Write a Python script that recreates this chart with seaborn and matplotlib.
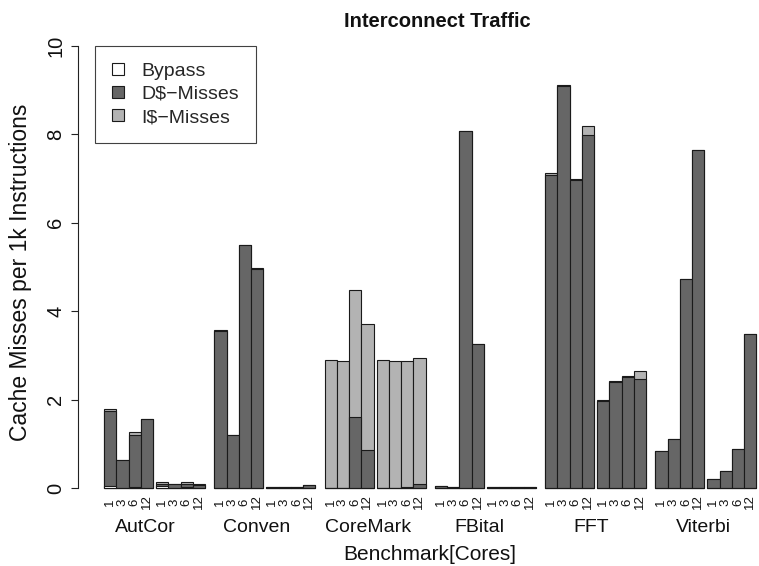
import numpy as np
import pandas as pd
import matplotlib
matplotlib.use("Agg")
import matplotlib.pyplot as plt
from matplotlib.patches import Patch
import seaborn as sns

# ---- data -------------------------------------------------------------
benchmarks = ["AutCor", "Conven", "CoreMark", "FBital", "FFT", "Viterbi"]
cores = ["1", "3", "6", "12"]

# two configurations per benchmark, four core counts each
bypass = [
    0.04, 0.01, 0.02, 0.01,   0.04, 0.01, 0.02, 0.01,   # AutCor
    0.01, 0.01, 0.01, 0.01,   0.01, 0.01, 0.01, 0.01,   # Conven
    0.00, 0.00, 0.00, 0.00,   0.00, 0.00, 0.00, 0.00,   # CoreMark
    0.01, 0.01, 0.01, 0.01,   0.01, 0.01, 0.01, 0.01,   # FBital
    0.01, 0.01, 0.01, 0.01,   0.01, 0.01, 0.01, 0.01,   # FFT
    0.01, 0.01, 0.01, 0.01,   0.01, 0.01, 0.01, 0.01,   # Viterbi
]
dcache_misses = [
    1.70, 0.62, 1.19, 1.54,   0.04, 0.07, 0.06, 0.06,
    3.55, 1.19, 5.48, 4.95,   0.01, 0.01, 0.01, 0.05,
    0.00, 0.00, 1.61, 0.86,   0.00, 0.00, 0.03, 0.08,
    0.03, 0.01, 8.06, 3.24,   0.01, 0.01, 0.01, 0.01,
    7.07, 9.08, 6.96, 7.98,   1.95, 2.38, 2.50, 2.45,
    0.82, 1.10, 4.72, 7.63,   0.20, 0.37, 0.88, 3.48,
]
icache_misses = [
    0.05, 0.01, 0.06, 0.02,   0.05, 0.01, 0.05, 0.01,
    0.01, 0.01, 0.01, 0.01,   0.00, 0.00, 0.00, 0.01,
    2.90, 2.88, 2.86, 2.86,   2.90, 2.87, 2.85, 2.87,
    0.00, 0.00, 0.00, 0.00,   0.00, 0.00, 0.00, 0.00,
    0.05, 0.02, 0.02, 0.19,   0.04, 0.02, 0.02, 0.18,
    0.00, 0.00, 0.00, 0.00,   0.00, 0.00, 0.00, 0.00,
]

# ---- bar layout (in bar widths) -----------------------------------------
group_gap = 0.25      # between the two configurations of a benchmark
bench_gap = 0.75      # between benchmarks
bench_pitch = 2 * len(cores) + group_gap + bench_gap

rows = []
k = 0
for b, name in enumerate(benchmarks):
    for g in range(2):
        for i, c in enumerate(cores):
            pos = b * bench_pitch + g * (len(cores) + group_gap) + i + 0.5
            rows.append(dict(pos=pos, bench=name, cores=c,
                             bypass=bypass[k], dmiss=dcache_misses[k],
                             imiss=icache_misses[k]))
            k += 1
df = pd.DataFrame(rows)
df["lvl_bypass"] = df["bypass"]
df["lvl_dmiss"] = df["bypass"] + df["dmiss"]
df["lvl_total"] = df["lvl_dmiss"] + df["imiss"]

# ---- style --------------------------------------------------------------
sns.set_theme(style="white")
plt.rcParams["font.family"] = ["Liberation Sans", "DejaVu Sans"]

W, H = 759, 566
fig = plt.figure(figsize=(W / 100, H / 100), dpi=100)

px_bar = 12.25          # pixels per bar width
x0_px = 104             # left edge of first bar
axis_px = 78            # y-axis position
y0_px, y10_px = 488, 46
ppu = (y0_px - y10_px) / 10.0
ylo, yhi = -0.4, 10.4
ax_bottom = H - (y0_px - ylo * ppu)
ax_top = H - (y10_px - (yhi - 10) * ppu)
ax = fig.add_axes([axis_px / W, ax_bottom / H, (W - axis_px) / W,
                   (ax_top - ax_bottom) / H])

fill_light = "#b3b3b3"
fill_dark = "#666666"
edge = "#1a1a1a"
common = dict(x="pos", native_scale=True, width=1.0, errorbar=None,
              edgecolor=edge, linewidth=0.8, ax=ax, saturation=1)

sns.barplot(data=df, y="lvl_total", color=fill_light, **common)
sns.barplot(data=df, y="lvl_dmiss", color=fill_dark, **common)
sns.barplot(data=df, y="lvl_bypass", color="white", **common)

ax.set_xlim((axis_px - x0_px) / px_bar, (W - x0_px) / px_bar)
ax.set_ylim(ylo, yhi)

# axes decorations
for s in ["top", "right", "bottom"]:
    ax.spines[s].set_visible(False)
ax.spines["left"].set_bounds(0, 10)
ax.spines["left"].set_color("#222222")
ax.spines["left"].set_linewidth(0.8)

ax.set_yticks(np.arange(0, 11, 2))
ax.set_yticklabels([str(v) for v in range(0, 11, 2)], rotation=90,
                   va="center", fontsize=14.5, color="#111111")
ax.tick_params(axis="y", direction="out", length=5, width=0.8,
               color="#222222", pad=4, left=True)

ax.set_xticks(df["pos"])
ax.set_xticklabels(df["cores"], rotation=90, fontsize=9.5, color="#111111")
ax.tick_params(axis="x", length=0, pad=-2.7)
for lbl in ax.get_xticklabels():
    lbl.set_va("center")
ax.set_xlabel("")
ax.set_ylabel("")

# benchmark names under each pair of groups
trans = ax.get_xaxis_transform()
ax_h_px = ax_top - ax_bottom
name_base = -(532 - (H - ax_bottom)) / ax_h_px
name_start, name_pitch = 3.35, 9.11
for b, name in enumerate(benchmarks):
    ax.text(name_start + b * name_pitch, name_base, name, transform=trans,
            ha="center", va="baseline", fontsize=14, color="#111111")

fig.text(430 / W, 1 - 560 / H, "Benchmark[Cores]", ha="center",
         va="baseline", fontsize=15, color="#111111")
fig.text(21 / W, 1 - 272 / H, "Cache Misses per 1k Instructions",
         rotation=90, ha="center", va="center", fontsize=16.5,
         color="#111111")
fig.text(437 / W, 1 - 27 / H, "Interconnect Traffic", ha="center",
         va="baseline", fontsize=14.5, fontweight="bold", color="#111111")

handles = [Patch(facecolor=c, edgecolor=edge, linewidth=0.8)
           for c in ["white", fill_dark, fill_light]]
leg = fig.legend(handles, ["Bypass", "D$\u2212Misses", "I$\u2212Misses"],
                 loc="upper left", bbox_to_anchor=(95 / W, 1 - 46 / H),
                 fontsize=14, frameon=True, fancybox=False,
                 handlelength=0.65, handleheight=0.6, handletextpad=0.9,
                 labelspacing=0.32, borderpad=0.85, borderaxespad=0)
leg.get_frame().set_edgecolor("#111111")
leg.get_frame().set_linewidth(0.8)

fig.savefig("out.png", dpi=100)
